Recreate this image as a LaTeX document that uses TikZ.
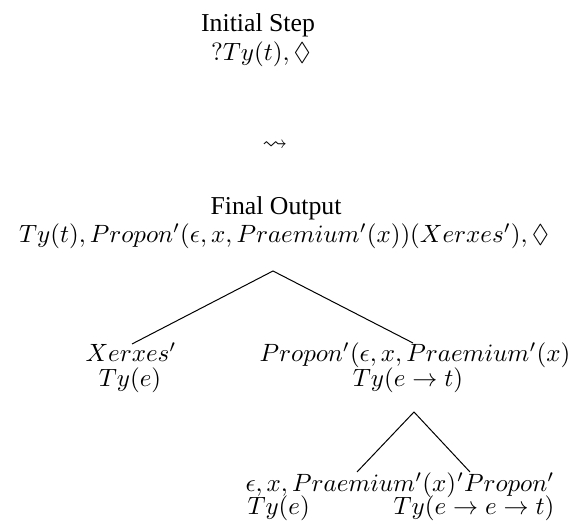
\documentclass[tikz,border=0pt]{standalone}
\usepackage{amssymb}
\usepackage{fontspec}
\setmainfont{Liberation Serif}
\begin{document}
\begin{tikzpicture}[x=0.4pt,y=-0.4pt,
  lbl/.style={inner sep=0pt,anchor=base},
  big/.style={font=\fontsize{10.3}{12}\selectfont},
  rootf/.style={font=\fontsize{10.3}{12}\selectfont},
  lblw/.style={inner sep=0pt,anchor=base west},
  lble/.style={inner sep=0pt,anchor=base east},
  edge/.style={line width=0.4pt}]
\path[use as bounding box] (0,0) rectangle (568,524);
\node[lbl,big] (init) at (258,32) {Initial Step};
\node[lbl,big] (initf) at (261,61) {$?Ty(t),\Diamond$};
\node[inner sep=0pt] (lead) at (275,146) {$\leadsto$};
\node[lbl,big] (fin) at (276,215) {Final Output};
\node[lbl,rootf] (root) at (284,243) {$Ty(t),Propon'(\epsilon,x,Praemium'(x))(Xerxes'),\Diamond$};
\node[lbl] (xer) at (131,362) {$Xerxes'$};
\node[lbl] (xerty) at (130,387) {$Ty(e)$};
\node[lbl] (prop) at (415,362) {$Propon'(\epsilon,x,Praemium'(x)$};
\node[lbl] (propty) at (408,387) {$Ty(e\rightarrow t)$};
\node[lblw] (eps) at (245,492) {$\epsilon,x,Praemium'(x)$};
\node[lblw] (epsty) at (247,515) {$Ty(e)$};
\node[lblw] (pp) at (eps.base east) {$'Propon'$};
\node[lble] (ppty) at (pp.base east |- 0,515) {$Ty(e\rightarrow e\rightarrow t)$};
\coordinate (a1) at (273,271);
\coordinate (l1) at (132,344);
\coordinate (r1) at (413,343);
\coordinate (a2) at (414,412);
\coordinate (l2) at (357,472);
\coordinate (r2) at (470,472);
\draw[edge] (l1) -- (a1) -- (r1);
\draw[edge] (l2) -- (a2) -- (r2);
\end{tikzpicture}
\end{document}
